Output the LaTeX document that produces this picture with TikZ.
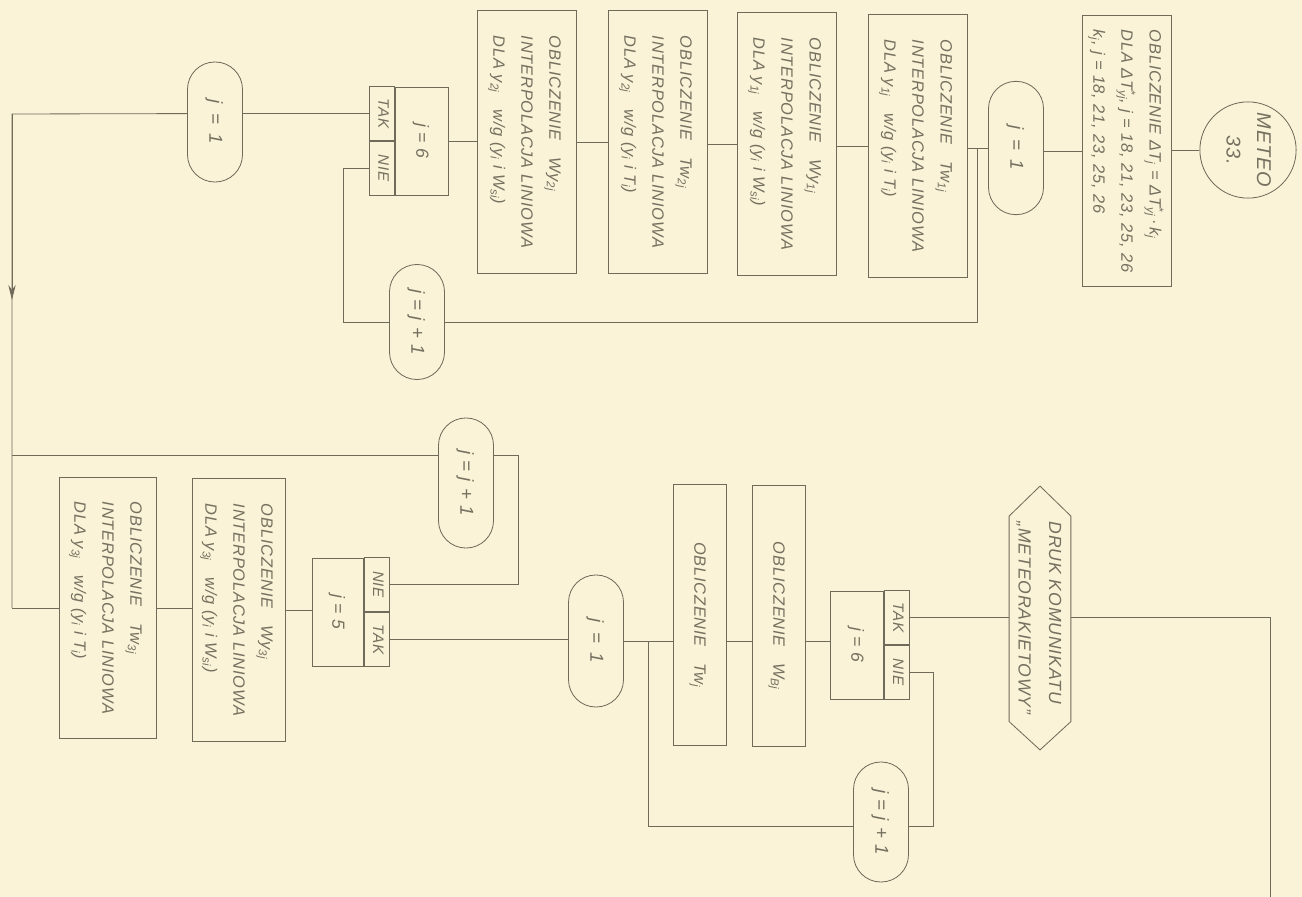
\documentclass[tikz,border=0pt]{standalone}
\usepackage{fontspec}
\setmainfont{Liberation Sans}[LetterSpace=5]
\usepackage{graphicx}
\usepackage{tikz}
\usetikzlibrary{positioning}
\usetikzlibrary{arrows, arrows.meta}

\definecolor{paper}{RGB}{250,243,215}
\definecolor{ink}{RGB}{112,106,90}
\definecolor{pencil}{RGB}{118,112,96}

\newcommand{\vtxt}[1]{\rotatebox{-90}{\begin{tabular}{@{}l@{}}#1\end{tabular}}}
\newcommand{\vmid}[1]{\rotatebox{-90}{\begin{tabular}{@{}c@{}}#1\end{tabular}}}
\newcommand{\interp}[3]{\vtxt{OBLICZENIE\quad #1\\INTERPOLACJA LINIOWA\\DLA #2\quad w/g (y\textsubscript{i} i #3)}}

\begin{document}
\begin{tikzpicture}[x=0.03cm,y=-0.03cm, line width=0.7pt, ink,
    every node/.style={text=pencil, font=\fontsize{14}{24}\selectfont\itshape},
    procbox/.style={draw=ink, rectangle, inner sep=0pt, minimum width=2.95cm, minimum height=7.9cm},
    slim/.style={draw=ink, rectangle, inner sep=0pt, minimum width=1.6cm, minimum height=7.85cm},
    term/.style={draw=ink, rounded corners=0.82cm, inner sep=0pt, minimum width=1.65cm, minimum height=3.7cm, font=\fontsize{16}{24}\selectfont\itshape},
    decision/.style={draw=ink, inner sep=0pt, minimum width=1.58cm, minimum height=3.24cm, font=\fontsize{15}{24}\selectfont\itshape},
    cell/.style={draw=ink, inner sep=0pt, minimum width=0.76cm, minimum height=1.62cm, font=\fontsize{13}{16}\selectfont\itshape}]

    \useasboundingbox (0,0) rectangle (1302,897);
    \fill[paper] (0,0) rectangle (1302,897);

    % upper row
    \node[draw=ink, circle, minimum size=2.88cm, inner sep=0pt, font=\fontsize{17}{26}\selectfont\itshape] (meteo) at (1248,150) {\vmid{METEO\\33.}};
    \node[procbox, minimum width=2.67cm, minimum height=8.13cm] (deltat) at (1127,151) {\vtxt{OBLICZENIE ΔT\textsubscript{j} = ΔT\rlap{\textsuperscript{*}}\textsubscript{yj}\,·\,k\textsubscript{j}\\DLA ΔT\rlap{\textsuperscript{*}}\textsubscript{yj}, j = 18, 21, 23, 25, 26\\k\textsubscript{j}, j = 18, 21, 23, 25, 26}};
    \node[term, minimum height=4cm] (jone) at (1016,148) {\vmid{j\enspace=\enspace1}};
    \node[procbox] (twone) at (918,146) {\interp{Tw\textsubscript{1j}}{y\textsubscript{1j}}{T\textsubscript{i}}};
    \node[procbox] (wyone) at (787,144) {\interp{Wy\textsubscript{1j}}{y\textsubscript{1j}}{W\textsubscript{si}}};
    \node[procbox] (twtwo) at (658,142) {\interp{Tw\textsubscript{2j}}{y\textsubscript{2j}}{T\textsubscript{i}}};
    \node[procbox] (wytwo) at (527,142) {\interp{Wy\textsubscript{2j}}{y\textsubscript{2j}}{W\textsubscript{si}}};
    \node[decision] (jsix) at (422,141) {\vmid{j = 6}};
    \node[cell, anchor=south east] (jsixtak) at (jsix.west) {\vmid{TAK}};
    \node[cell, anchor=north east] (jsixnie) at (jsix.west) {\vmid{NIE}};
    \node[term, minimum height=3.6cm] (jstart) at (215,122) {\vmid{j\enspace=\enspace1}};
    \node[term, minimum height=3.45cm] (jnext) at (417,322) {\vmid{j = j + 1}};

    \coordinate (loopa) at (977,148);
    \coordinate (loopb) at (343,322);
    \coordinate (cornera) at (12,114);
    \coordinate (cornerb) at (12,608);
    \coordinate (arrowtip) at (12,300);

    \draw (meteo.west) -- (meteo.west -| deltat.east);
    \draw (deltat.west) -- (deltat.west -| jone.east);
    \draw (jone.west) -- (jone.west -| twone.east);
    \draw (twone.west) -- (twone.west -| wyone.east);
    \draw (wyone.west) -- (wyone.west -| twtwo.east);
    \draw (twtwo.west) -- (twtwo.west -| wytwo.east);
    \draw (wytwo.west |- jsix.east) -- (jsix.east);
    \draw (jsixtak.west) -- (jsixtak.west -| jstart.east);
    \draw (jsixnie.west) -| (loopb) -- (jnext.west);
    \draw (jnext.east) -| (loopa);
    \draw (jstart.west |- jsixtak.west) -- (cornera) -- (cornerb);
    \draw[-{Stealth[length=4.5mm, width=2.2mm]}] (cornera) -- (arrowtip);

    % lower row
    \node[procbox, minimum width=2.91cm, minimum height=7.83cm] (twthree) at (108,608) {\interp{Tw\textsubscript{3j}}{y\textsubscript{3j}}{T\textsubscript{i}}};
    \node[procbox, minimum width=2.79cm, minimum height=7.89cm] (wythree) at (239,610) {\interp{Wy\textsubscript{3j}}{y\textsubscript{3j}}{W\textsubscript{si}}};
    \node[decision, minimum width=1.53cm] (jfive) at (338,612) {\vmid{j = 5}};
    \node[cell, anchor=south west] (jfivenie) at (jfive.east) {\vmid{NIE}};
    \node[cell, anchor=north west] (jfivetak) at (jfive.east) {\vmid{TAK}};
    \node[term, minimum height=3.9cm] (jnextb) at (466,483) {\vmid{j = j + 1}};
    \node[term, minimum height=3.96cm] (jonec) at (596,641) {\vmid{j\enspace=\enspace1}};
    \node[slim] (twj) at (700,615) {\vmid{OBLICZENIE\quad Tw\textsubscript{j}}};
    \node[slim] (wbj) at (779,616) {\vmid{OBLICZENIE\quad W\textsubscript{Bj}}};
    \node[decision] (jsixb) at (857,645) {\vmid{j = 6}};
    \node[cell, anchor=south west] (jsixbtak) at (jsixb.east) {\vmid{TAK}};
    \node[cell, anchor=north west] (jsixbnie) at (jsixb.east) {\vmid{NIE}};
    \node[term, minimum height=3.6cm] (jnextc) at (881,822) {\vmid{j = j + 1}};
    \node[minimum width=1.65cm, minimum height=7.89cm, inner sep=0pt, font=\fontsize{15}{26}\selectfont\itshape] (druk) at (1040,618) {\vtxt{DRUK KOMUNIKATU\\„METEORAKIETOWY”}};
    \draw (druk.north) -- ([yshift=-0.9cm]druk.north east) -- ([yshift=0.85cm]druk.south east) -- (druk.south)
        -- ([yshift=0.85cm]druk.south west) -- ([yshift=-0.9cm]druk.north west) -- cycle;

    \coordinate (loopc) at (518,455);
    \coordinate (loopd) at (648,641);
    \coordinate (loope) at (933,826);
    \coordinate (exit) at (1270,897);

    \draw (cornerb) -- (cornerb -| twthree.west);
    \draw (twthree.east) -- (twthree.east -| wythree.west);
    \draw (wythree.east) -- (wythree.east -| jfive.west);
    \draw (jfivenie.east) -| (loopc) -- (loopc -| jnextb.east);
    \draw (jnextb.west |- loopc) -- (loopc -| cornerb);
    \draw (jfivetak.east) -- (jfivetak.east -| jonec.west);
    \draw (jonec.east) -- (jonec.east -| twj.west);
    \draw (twj.east |- jonec.east) -- (jonec.east -| wbj.west);
    \draw (wbj.east |- jonec.east) -- (jonec.east -| jsixb.west);
    \draw (jsixbtak.east) -- (jsixbtak.east -| druk.west);
    \draw (druk.east |- jsixbtak.east) -| (exit);
    \draw (jsixbnie.east) -| (loope) -- (loope -| jnextc.east);
    \draw (jnextc.west |- loope) -| (loopd);
\end{tikzpicture}
\end{document}
